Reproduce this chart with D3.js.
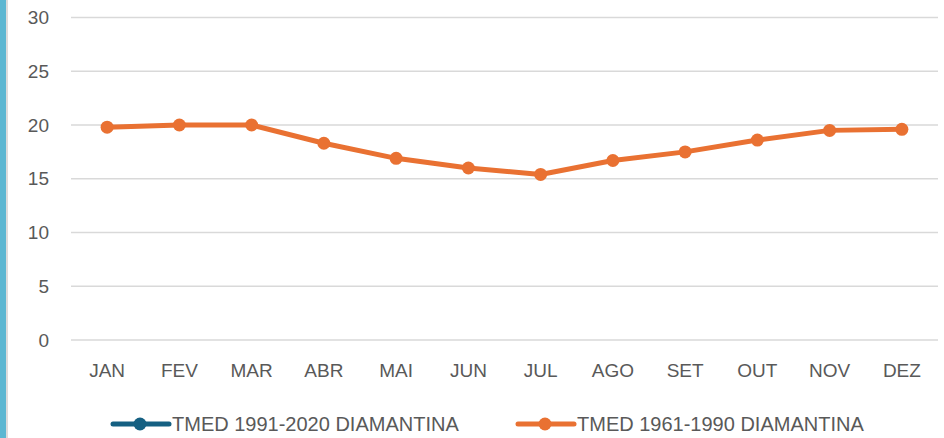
<!DOCTYPE html>
<html>
<head>
<meta charset="utf-8">
<script src="https://cdn.jsdelivr.net/npm/d3@7"></script>
<style>
	body { margin: 0; background: #fff; }
	svg { display: block; font-family: "Liberation Sans", Arial, sans-serif; }
</style>
</head>
<body>
<div id="chart"></div>
<script>
// data
var months = ["JAN", "FEV", "MAR", "ABR", "MAI", "JUN", "JUL", "AGO", "SET", "OUT", "NOV", "DEZ"];
var tmed1991 = []; // series shown in legend only, no visible line
var tmed1961 = [19.8, 20.0, 20.0, 18.3, 16.9, 16.0, 15.4, 16.7, 17.5, 18.6, 19.5, 19.6];
var yTicks = [0, 5, 10, 15, 20, 25, 30];
var seriesNames = ["TMED 1991-2020 DIAMANTINA", "TMED 1961-1990 DIAMANTINA"];
var seriesColors = ["#156082", "#E97132"];

var width = 944, height = 438;
var margin = {top: 17.5, right: 6, bottom: 98, left: 71};
var innerW = width - margin.left - margin.right;
var innerH = height - margin.top - margin.bottom;

var svg = d3.select("#chart").append("svg")
	.attr("width", width)
	.attr("height", height);

// blue border strip on the left
svg.append("rect").attr("x", 0).attr("y", 0).attr("width", 6).attr("height", height).attr("fill", "#5cb7d2");
svg.append("rect").attr("x", 6).attr("y", 0).attr("width", 2).attr("height", height).attr("fill", "#dcdcdc");

var g = svg.append("g")
	.attr("transform", "translate(" + margin.left + "," + margin.top + ")");

var x = d3.scaleBand().domain(months).range([0, innerW]);
var y = d3.scaleLinear().domain([0, 30]).range([innerH, 0]);

// gridlines
g.selectAll("line.grid")
	.data(yTicks)
	.enter().append("line")
	.attr("class", "grid")
	.attr("x1", 0)
	.attr("x2", innerW)
	.attr("y1", function(d) { return y(d); })
	.attr("y2", function(d) { return y(d); })
	.attr("stroke", "#d9d9d9")
	.attr("stroke-width", 1.5);

// y axis labels
var yAxis = g.append("g")
	.call(d3.axisLeft(y).tickValues(yTicks).tickSize(0).tickPadding(22));
yAxis.select(".domain").remove();
yAxis.selectAll("text")
	.attr("fill", "#595959")
	.attr("font-size", "19px")
	.attr("font-family", "Liberation Sans, Arial, sans-serif");

// x axis labels
var xAxis = g.append("g")
	.attr("transform", "translate(0," + innerH + ")")
	.call(d3.axisBottom(x).tickSize(0).tickPadding(24));
xAxis.select(".domain").remove();
xAxis.selectAll("text")
	.attr("fill", "#595959")
	.attr("font-size", "19px")
	.attr("font-family", "Liberation Sans, Arial, sans-serif");

// line
var line = d3.line()
	.x(function(d, i) { return x(months[i]) + x.bandwidth() / 2; })
	.y(function(d) { return y(d); });

[tmed1991, tmed1961].forEach(function(series, s) {
	if (!series.length) return;
	g.append("path")
		.datum(series)
		.attr("fill", "none")
		.attr("stroke", seriesColors[s])
		.attr("stroke-width", 5)
		.attr("stroke-linejoin", "round")
		.attr("d", line);

	g.selectAll("circle.s" + s)
		.data(series)
		.enter().append("circle")
		.attr("class", "s" + s)
		.attr("cx", function(d, i) { return x(months[i]) + x.bandwidth() / 2; })
		.attr("cy", function(d) { return y(d); })
		.attr("r", 6.5)
		.attr("fill", seriesColors[s]);
});

// legend
var legendX = [113, 518];
var legend = svg.append("g").attr("transform", "translate(0,424)");
seriesNames.forEach(function(name, i) {
	var item = legend.append("g").attr("transform", "translate(" + legendX[i] + ",0)");
	item.append("line")
		.attr("x1", 0).attr("x2", 56)
		.attr("y1", 0).attr("y2", 0)
		.attr("stroke", seriesColors[i])
		.attr("stroke-width", 5)
		.attr("stroke-linecap", "round");
	item.append("circle")
		.attr("cx", 27).attr("cy", 0).attr("r", 6.5)
		.attr("fill", seriesColors[i]);
	item.append("text")
		.attr("x", 59)
		.attr("y", 0)
		.attr("dy", "0.36em")
		.attr("fill", "#595959")
		.attr("font-size", "20px")
		.text(name);
});
</script>
</body>
</html>
